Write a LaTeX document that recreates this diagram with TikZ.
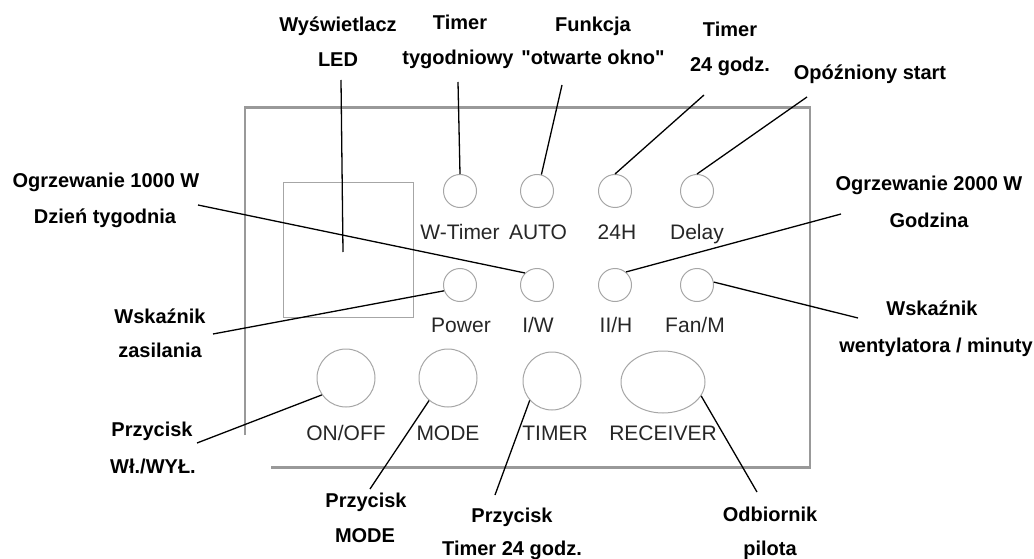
\documentclass[tikz,border=0pt]{standalone}
\usepackage{fontspec}
\setmainfont{Liberation Sans}[Ligatures=TeXOff]
\usetikzlibrary{shapes.geometric,calc}
\begin{document}
\begin{tikzpicture}[x=1pt,y=-1pt,
  outer/.style={font=\fontsize{20}{22}\selectfont\bfseries, text=black, inner sep=0pt, anchor=base},
  panel/.style={font=\fontsize{21}{23}\selectfont, text=black!85, inner sep=0pt, anchor=base},
  lamp/.style={circle, draw=black!35, line width=1pt, minimum size=33pt, inner sep=0pt},
  btn/.style={circle, draw=black!35, line width=1pt, minimum size=58pt, inner sep=0pt},
  leader/.style={draw=black, line width=1.3pt},
  frameline/.style={draw=black!40}]

\useasboundingbox (0,0) rectangle (1034,559);

% panel frame
\draw[frameline, line width=2.5pt] (245,435) -- (245,107);
\draw[frameline, line width=3pt] (244,108) -- (811,108);
\draw[frameline, line width=1.6pt] (810,108) -- (810,467);
\draw[frameline, line width=3pt] (271,467) -- (811,467);

% LED display
\node[draw=black!35, line width=1pt, minimum width=130pt, minimum height=134pt, inner sep=0pt] (led) at (348,250) {};

% indicator lamps row 1
\node[lamp] (wtimer) at (460,191) {};
\node[lamp] (auto) at (537,191) {};
\node[lamp] (h24) at (615,191) {};
\node[lamp] (delay) at (697,191) {};
% row 2
\node[lamp] (power) at (460,285) {};
\node[lamp] (iw) at (537,285) {};
\node[lamp] (iih) at (615,285) {};
\node[lamp] (fan) at (697,285) {};
% buttons
\node[btn] (onoff) at (346,378) {};
\node[btn] (mode) at (448,378) {};
\node[btn] (timer) at (552,381) {};
\node[ellipse, draw=black!35, line width=1pt, minimum width=84pt, minimum height=62pt, inner sep=0pt] (receiver) at (663,382) {};

% panel labels
\node[panel] (l-wtimer) at (460,239) {W-Timer};
\node[panel] (l-auto) at (538,239) {AUTO};
\node[panel] (l-24h) at (617,239) {24H};
\node[panel] (l-delay) at (697,239) {Delay};
\node[panel] (l-power) at (461,332) {Power};
\node[panel] (l-iw) at (538,332) {I/W};
\node[panel] (l-iih) at (616,332) {II/H};
\node[panel] (l-fan) at (695,332) {Fan/M};
\node[panel] (l-onoff) at (346,440) {ON/OFF};
\node[panel] (l-mode) at (448,440) {MODE};
\node[panel] (l-timer) at (555,440) {TIMER};
\node[panel] (l-receiver) at (663,440) {RECEIVER};

% callout labels
\node[outer] (t-led1) at (338,32) {Wyświetlacz};
\node[outer] (t-led2) at (338,67) {LED};
\node[outer] (t-wt1) at (460,30) {Timer};
\node[outer] (t-wt2) at (458,65) {tygodniowy};
\node[outer] (t-auto1) at (593,32) {Funkcja};
\node[outer] (t-auto2) at (593,65) {"otwarte okno"};
\node[outer] (t-24a) at (730,37) {Timer};
\node[outer] (t-24b) at (730,72) {24 godz.};
\node[outer] (t-delay) at (870,80) {Opóźniony start};
\node[outer] (t-iw1) at (106,188) {Ogrzewanie 1000 W};
\node[outer] (t-iw2) at (105,223) {Dzień tygodnia};
\node[outer] (t-ii1) at (929,190) {Ogrzewanie 2000 W};
\node[outer] (t-ii2) at (929,227) {Godzina};
\node[outer] (t-pw1) at (160,323) {Wskaźnik};
\node[outer] (t-pw2) at (160,357) {zasilania};
\node[outer] (t-fan1) at (932,315) {Wskaźnik};
\node[outer] (t-fan2) at (936,352) {wentylatora / minuty};
\node[outer] (t-on1) at (152,436) {Przycisk};
\node[outer] (t-on2) at (153,473) {Wł./WYŁ.};
\node[outer] (t-mode1) at (366,507) {Przycisk};
\node[outer] (t-mode2) at (365,542) {MODE};
\node[outer] (t-tim1) at (512,522) {Przycisk};
\node[outer] (t-tim2) at (512,555) {Timer 24 godz.};
\node[outer] (t-rec1) at (770,521) {Odbiornik};
\node[outer] (t-rec2) at (770,555) {pilota};

% leader start points
\coordinate (c-led) at (341,80);
\coordinate (c-ledend) at (343,252);
\coordinate (c-wt) at (458,82);
\coordinate (c-auto) at (562,85);
\coordinate (c-24) at (704,95);
\coordinate (c-delay) at (807,97);
\coordinate (c-iw) at (198,205);
\coordinate (c-ii) at (841,214);
\coordinate (c-pw) at (213,334);
\coordinate (c-fan) at (858,318);
\coordinate (c-on) at (197,443);
\coordinate (c-mode) at (370,489);
\coordinate (c-tim) at (495,495);
\coordinate (c-rec) at (757,492);

% leaders
\draw[leader] (c-led) -- (c-ledend);
\draw[leader] (c-wt) -- (wtimer.north);
\draw[leader] (c-auto) -- (auto.75);
\draw[leader] (c-24) -- (h24.north);
\draw[leader] (c-delay) -- (delay.north);
\draw[leader] (c-iw) -- (iw.135);
\draw[leader] (c-ii) -- (iih.50);
\draw[leader] (c-pw) -- (power.200);
\draw[leader] (c-fan) -- (fan.10);
\draw[leader] (c-on) -- (onoff.215);
\draw[leader] (c-mode) -- (mode.230);
\draw[leader] (c-tim) -- (timer.221);
\draw[leader] (c-rec) -- (receiver.-20);
\end{tikzpicture}
\end{document}
